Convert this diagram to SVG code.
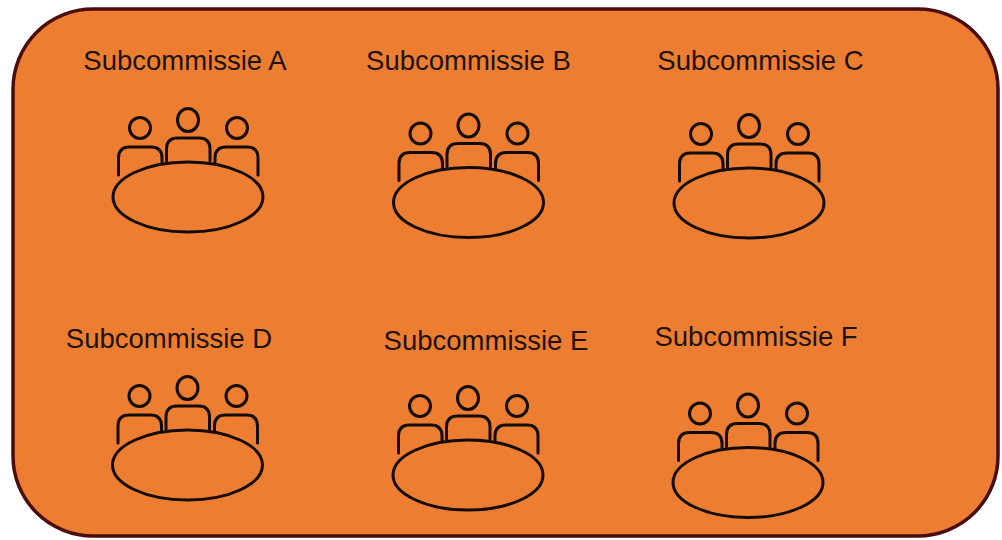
<svg xmlns="http://www.w3.org/2000/svg" xmlns:xlink="http://www.w3.org/1999/xlink" width="1002" height="540" viewBox="0 0 1002 540">
  <style>
    .frame { fill: #ED7D31; stroke: #4A0D0B; stroke-width: 3.5; }
    .lbl { font-family: "Liberation Sans", Arial, sans-serif; font-size: 27.5px; fill: #1E120C; text-anchor: middle; }
    .ic { fill: none; stroke: #140C08; stroke-width: 3; stroke-linecap: round; stroke-linejoin: round; }
    .tbl { fill: #ED7D31; stroke: #140C08; stroke-width: 3; }
  </style>
  <defs>
    <g id="table">
      <circle class="ic" cx="-48" cy="-69" r="10.5"/>
      <ellipse class="ic" cx="0" cy="-77" rx="10.5" ry="11.5"/>
      <circle class="ic" cx="49" cy="-69" r="10.5"/>
      <path class="ic" d="M -69.5 -22 V -39 Q -69.5 -50 -58.5 -50 H -37 Q -26 -50 -26 -39 V -34"/>
      <path class="ic" d="M -21.5 -36 V -48 Q -21.5 -59 -10.5 -59 H 11 Q 22 -59 22 -48 V -36"/>
      <path class="ic" d="M 27 -34 V -39 Q 27 -50 38 -50 H 59 Q 70 -50 70 -39 V -22"/>
      <ellipse class="tbl" cx="0" cy="0" rx="75" ry="35"/>
    </g>
  </defs>
  <rect id="frame" class="frame" x="13" y="9" width="985" height="527" rx="80" ry="80"/>
  <g id="connectors"></g>
  <g id="node-A">
    <text class="lbl" x="185" y="70">Subcommissie A</text>
    <use xlink:href="#table" href="#table" transform="translate(188,197)"/>
  </g>
  <g id="node-B">
    <text class="lbl" x="468.5" y="70">Subcommissie B</text>
    <use xlink:href="#table" href="#table" transform="translate(468.5,202.5)"/>
  </g>
  <g id="node-C">
    <text class="lbl" x="760.5" y="70">Subcommissie C</text>
    <use xlink:href="#table" href="#table" transform="translate(749,203)"/>
  </g>
  <g id="node-D">
    <text class="lbl" x="169" y="348">Subcommissie D</text>
    <use xlink:href="#table" href="#table" transform="translate(187.5,465)"/>
  </g>
  <g id="node-E">
    <text class="lbl" x="486" y="350">Subcommissie E</text>
    <use xlink:href="#table" href="#table" transform="translate(468,475)"/>
  </g>
  <g id="node-F">
    <text class="lbl" x="756" y="346">Subcommissie F</text>
    <use xlink:href="#table" href="#table" transform="translate(748,482.5)"/>
  </g>
</svg>
